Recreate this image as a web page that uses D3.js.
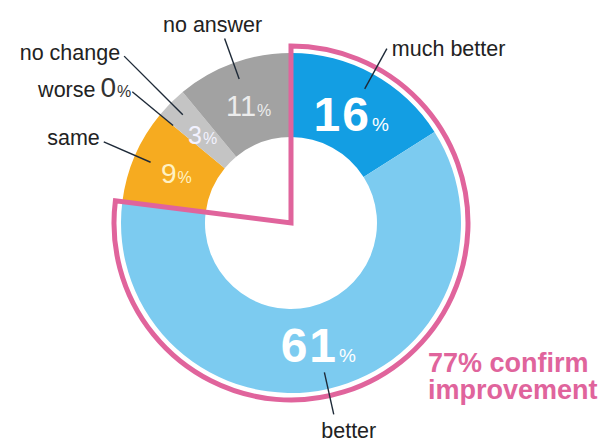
<!DOCTYPE html>
<html>
<head>
<meta charset="utf-8">
<script src="https://cdn.jsdelivr.net/npm/d3@7"></script>
<style>
  body { margin: 0; background: #fff; }
  svg text { font-family: "Liberation Sans", Arial, sans-serif; }
</style>
</head>
<body>
<svg id="chart" width="608" height="444"></svg>
<script>
// answers, clockwise from 12 o'clock
var categories = ["much better", "better", "same", "worse", "no change", "no answer"];
var shares = [16, 61, 9, 0, 3, 11];
var confirmed = 77;
var confirmLines = ["77% confirm", "improvement"];

// look
var sliceColors = ["#139ee3", "#7ccbf0", "#f6ab20", "#bdbdbd", "#c4c4c4", "#a2a2a2"];
var valueColors = ["#ffffff", "#ffffff", "#fff2c4", "#333", "#f2f2ff", "#ececec"];
var valueSizes = [48, 48, 28, 0, 25, 29];
var leaderOuter = [199, 196, 204, 206, 236, 196];
// text position relative to the leader line end: dx, dy, anchor
var textOffsets = [[5, 7, "start"], [15, 24, "middle"], [-4, 3, "end"], [-1, 5, "end"], [-4, 4, "end"], [-12, -7, "middle"]];

var cx = 291, cy = 223;
var outerR = 170, innerR = 86;
var pink = "#e0649c";

var svg = d3.select("#chart");
var g = svg.append("g").attr("transform", "translate(" + cx + "," + cy + ")");

var pie = d3.pie().sort(null).value(function(d) { return d; });
var arcs = pie(shares);

var arc = d3.arc().innerRadius(innerR).outerRadius(outerR);

g.selectAll(".slice")
	.data(arcs)
	.enter().append("path")
	.attr("class", "slice")
	.attr("d", arc)
	.attr("fill", function(d, i) { return sliceColors[i]; });

// outline round the improved share
var share = d3.scaleLinear().domain([0, 100]).range([0, 2 * Math.PI]);
g.append("path")
	.attr("d", d3.arc().innerRadius(0).outerRadius(177).startAngle(0).endAngle(share(confirmed))())
	.attr("fill", "none")
	.attr("stroke", pink)
	.attr("stroke-width", 5)
	.attr("stroke-linejoin", "miter");

function mid(d) { return (d.startAngle + d.endAngle) / 2; }
function polar(a, r) { return [Math.sin(a) * r, -Math.cos(a) * r]; }

// values inside the ring
arcs.forEach(function(d, i) {
	if (i == 3) return; // "worse" is printed next to its label
	var p = polar(mid(d), 125);
	var size = valueSizes[i];
	var t = g.append("text")
		.attr("x", p[0])
		.attr("y", p[1] + size * 0.36)
		.attr("text-anchor", "middle")
		.attr("fill", valueColors[i]);
	t.append("tspan")
		.attr("font-size", size)
		.attr("font-weight", size > 40 ? "bold" : "normal")
		.attr("letter-spacing", size > 40 ? 2 : 0)
		.text(shares[i]);
	t.append("tspan")
		.attr("font-size", size > 40 ? 19 : 16)
		.attr("dx", 1)
		.text("%");
});

// leader lines and names
arcs.forEach(function(d, i) {
	var a = mid(d);
	var p0 = polar(a, 153), p1 = polar(a, leaderOuter[i]);
	g.append("line")
		.attr("x1", p0[0]).attr("y1", p0[1])
		.attr("x2", p1[0]).attr("y2", p1[1])
		.attr("stroke", "#1e2a38")
		.attr("stroke-width", 1.4);
	var off = textOffsets[i];
	var t = g.append("text")
		.attr("x", p1[0] + off[0])
		.attr("y", p1[1] + off[1])
		.attr("text-anchor", off[2])
		.attr("font-size", 21.5)
		.attr("fill", "#222");
	t.append("tspan").text(categories[i]);
	if (i == 3) {
		t.append("tspan").attr("dx", 5).attr("font-size", 28).attr("fill", "#333").text(shares[i]);
		t.append("tspan").attr("dx", 1).attr("font-size", 16).attr("fill", "#333").text("%");
	}
});

svg.append("g").selectAll("text")
	.data(confirmLines)
	.enter().append("text")
	.attr("x", 428)
	.attr("y", function(d, i) { return 372 + i * 27; })
	.attr("font-size", 27)
	.attr("font-weight", "bold")
	.attr("fill", pink)
	.text(function(d) { return d; });
</script>
</body>
</html>
